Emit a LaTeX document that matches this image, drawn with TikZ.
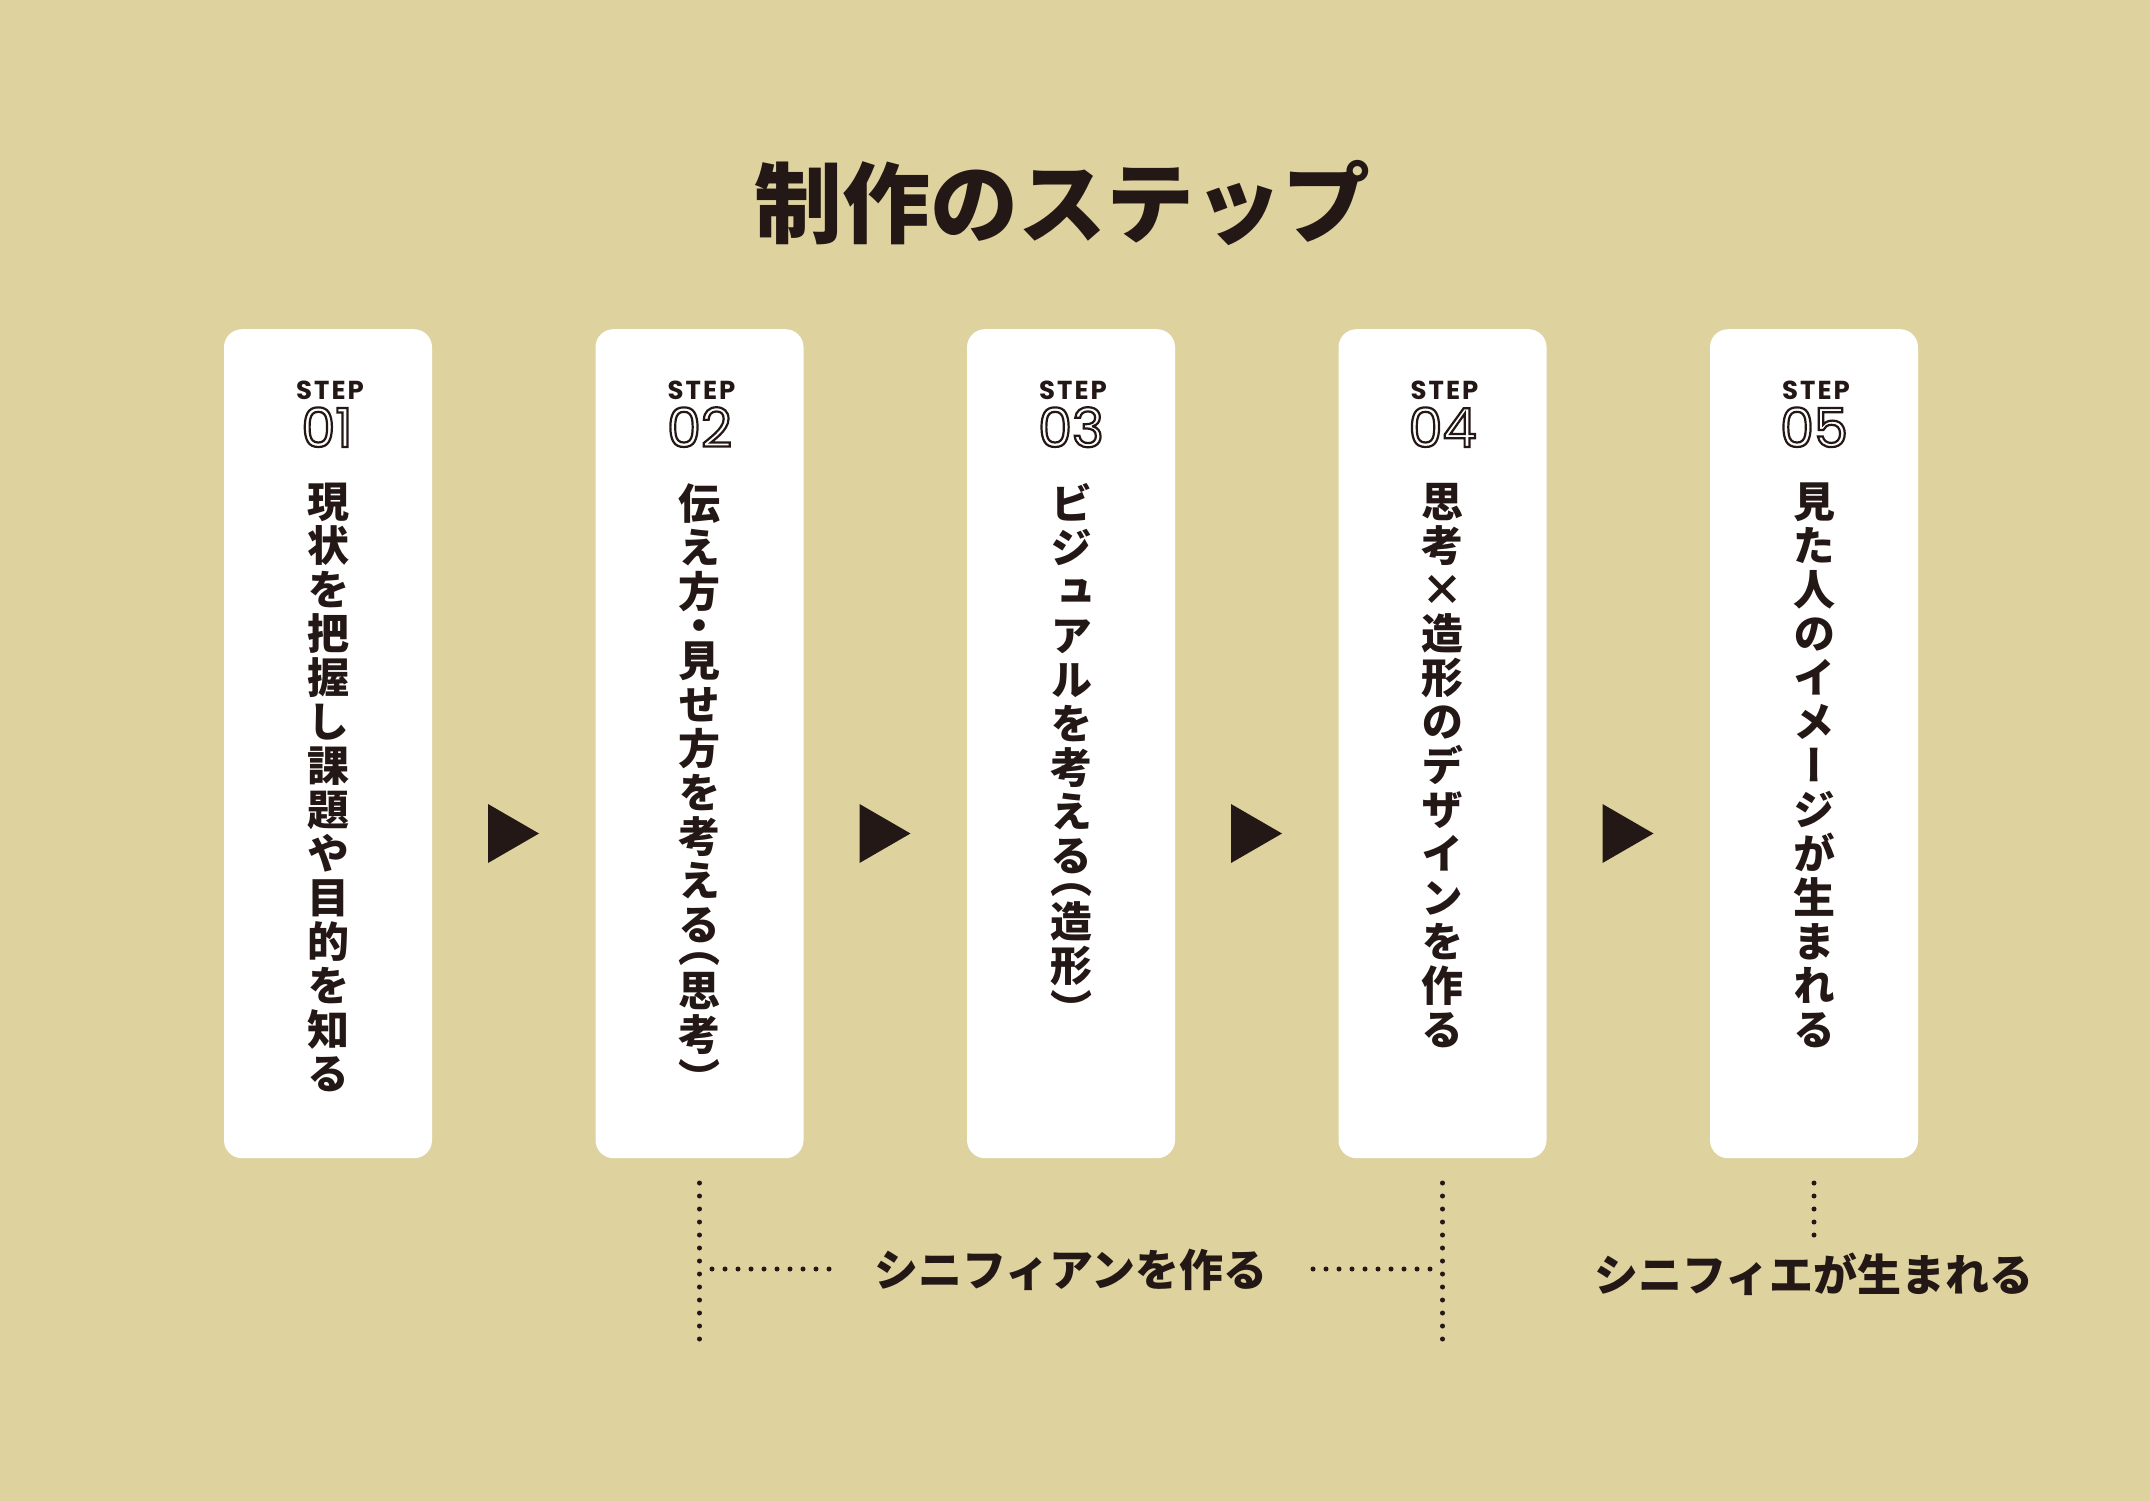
\documentclass[tikz,border=0pt]{standalone}
\usepackage{fontspec}
\newfontfamily\jp{Noto Sans CJK JP}
\newfontfamily\vjp{Noto Sans CJK JP}[RawFeature={+vert}]
\newfontfamily\pop{Poppins}
\newfontfamily\popsp{Poppins}[LetterSpace=8]
\definecolor{bg}{RGB}{222,211,159}
\definecolor{ink}{RGB}{35,24,21}
\newcommand\outltext[1]{{\special{pdf:literal direct 1 Tr 2.2 w}#1\special{pdf:literal direct 0 Tr}}}
\begin{document}
\begin{tikzpicture}[x=1pt,y=-1pt,
  stepbox/.style={fill=white, rounded corners=18pt, minimum width=208pt, minimum height=829pt, inner sep=0pt, anchor=north, draw=none},
  steplbl/.style={font=\popsp\bfseries\fontsize{26}{26}\selectfont, text=ink, anchor=base, inner sep=0pt},
  stepnum/.style={font=\pop\fontsize{54}{54}\selectfont, text=ink, anchor=base, inner sep=0pt},
  vtext/.style={font=\vjp\bfseries\fontsize{42}{44}\selectfont, text=ink, align=center, anchor=north, inner sep=0pt},
  titletext/.style={font=\jp\bfseries\fontsize{88}{88}\selectfont, text=ink, anchor=base, inner sep=0pt},
  bottomtext/.style={font=\jp\bfseries\fontsize{44}{44}\selectfont, text=ink, anchor=base, inner sep=0pt},
  dots/.style={draw=ink, line width=5pt, line cap=round, dash pattern=on 0pt off 13pt}
]
\fill[bg] (0,0) rectangle (2150,1501);
\useasboundingbox (0,0) rectangle (2150,1501);

\node[titletext] (title) at (1062,236) {制作のステップ};

% boxes
\node[stepbox] (b1) at (328,329) {};
\node[stepbox] (b2) at (699.5,329) {};
\node[stepbox] (b3) at (1071,329) {};
\node[stepbox] (b4) at (1442.5,329) {};
\node[stepbox] (b5) at (1814,329) {};

% step labels
\node[steplbl] (s1) at (330,399) {STEP};
\node[steplbl] (s2) at (701.5,399) {STEP};
\node[steplbl] (s3) at (1073,399) {STEP};
\node[steplbl] (s4) at (1444.5,399) {STEP};
\node[steplbl] (s5) at (1816,399) {STEP};

\node[stepnum] (n1) at (327,447) {\outltext{01}};
\node[stepnum] (n2) at (699.5,447) {\outltext{02}};
\node[stepnum] (n3) at (1071,447) {\outltext{03}};
\node[stepnum] (n4) at (1442.5,447) {\outltext{04}};
\node[stepnum] (n5) at (1814,447) {\outltext{05}};

% vertical texts
\node[vtext] (t1) at (328,483) {現\\状\\を\\把\\握\\し\\課\\題\\や\\目\\的\\を\\知\\る};
\node[vtext] (t2) at (699.5,483) {伝\\え\\方\\[-10pt]・\\[-9pt]見\\せ\\方\\を\\考\\え\\る\\[-22pt]（\\思\\考\\）};
\node[vtext] (t3) at (1071,483) {ビ\\ジ\\ュ\\ア\\ル\\を\\考\\え\\る\\[-22pt]（\\造\\形\\）};
\node[vtext] (t4) at (1442.5,483) {思\\考\\×\\造\\形\\の\\デ\\ザ\\イ\\ン\\を\\作\\る};
\node[vtext] (t5) at (1814,483) {見\\た\\人\\の\\イ\\メ\\ー\\ジ\\が\\生\\ま\\れ\\る};

% arrows
\foreach \bx in {432,803.5,1175,1546.5}{
  \fill[ink] (\bx+56,804) -- (\bx+107,833.5) -- (\bx+56,863) -- cycle;
}

% bottom annotations
\coordinate (v2a) at (699.5,1183);
\coordinate (v2b) at (699.5,1344);
\coordinate (v4a) at (1442.5,1183);
\coordinate (v4b) at (1442.5,1344);
\coordinate (v5a) at (1814,1183);
\coordinate (v5b) at (1814,1243);
\coordinate (h1a) at (712,1269);
\coordinate (h1b) at (831,1269);
\coordinate (h2a) at (1312,1269);
\coordinate (h2b) at (1430,1269);
\draw[dots] (v2a) -- (v2b);
\draw[dots] (v4a) -- (v4b);
\draw[dots] (v5a) -- (v5b);
\draw[dots] (h1a) -- (h1b);
\draw[dots] (h2b) -- (h2a);

\node[bottomtext] (sfa) at (1071,1286) {シニフィアンを作る};
\node[bottomtext] (sfe) at (1814,1291) {シニフィエが生まれる};
\end{tikzpicture}
\end{document}
